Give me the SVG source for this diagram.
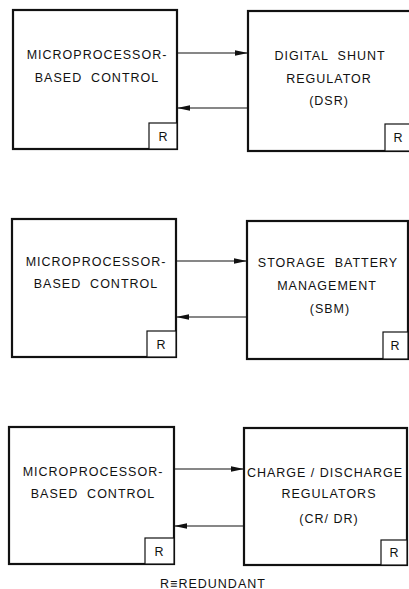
<svg xmlns="http://www.w3.org/2000/svg" width="409" height="589" viewBox="0 0 409 589">
<defs>
<style>
.box{fill:#fff;stroke:#111;stroke-width:2.2}
.rbox{fill:#fff;stroke:#111;stroke-width:1.2}
.t{font-family:"Liberation Sans",Arial,sans-serif;font-size:12.5px;fill:#111;text-anchor:middle;letter-spacing:1px;white-space:pre}
.c{stroke:#111;stroke-width:1.1;fill:none;marker-end:url(#ah)}
</style>
<marker id="ah" markerUnits="userSpaceOnUse" markerWidth="14" markerHeight="8" refX="13" refY="4" orient="auto">
<path d="M0,1.3 L13,4 L0,6.7 Z" fill="#111"/>
</marker>
</defs>
<rect width="409" height="589" fill="#fff"/>

<g id="mpc1">
<rect class="box" x="13" y="10" width="164" height="139"/>
<rect class="rbox" x="149" y="123" width="28" height="26"/>
<text class="t" x="97" y="58.5">MICROPROCESSOR-</text>
<text class="t" x="97" y="81.5" xml:space="preserve">BASED  CONTROL</text>
<text class="t" x="163.5" y="140.5">R</text>
</g>
<g id="dsr">
<rect class="box" x="248" y="11" width="165" height="140"/>
<rect class="rbox" x="385" y="124" width="28" height="27"/>
<text class="t" x="330" y="59.5" xml:space="preserve">DIGITAL  SHUNT</text>
<text class="t" x="329" y="82.5">REGULATOR</text>
<text class="t" x="329" y="104.5">(DSR)</text>
<text class="t" x="398.5" y="142">R</text>
</g>

<g id="mpc2">
<rect class="box" x="12" y="219" width="164" height="138"/>
<rect class="rbox" x="147" y="331" width="29" height="26"/>
<text class="t" x="96" y="265.5">MICROPROCESSOR-</text>
<text class="t" x="96" y="288" xml:space="preserve">BASED  CONTROL</text>
<text class="t" x="161.5" y="348.5">R</text>
</g>
<g id="sbm">
<rect class="box" x="247" y="221" width="161" height="138"/>
<rect class="rbox" x="383" y="332" width="25" height="27"/>
<text class="t" x="328" y="266.5" xml:space="preserve">STORAGE  BATTERY</text>
<text class="t" x="327" y="289.5">MANAGEMENT</text>
<text class="t" x="330" y="312.5">(SBM)</text>
<text class="t" x="395.5" y="350">R</text>
</g>

<g id="mpc3">
<rect class="box" x="9" y="427" width="165" height="137"/>
<rect class="rbox" x="145" y="538" width="29" height="26"/>
<text class="t" x="93" y="475.5">MICROPROCESSOR-</text>
<text class="t" x="93" y="497.5" xml:space="preserve">BASED  CONTROL</text>
<text class="t" x="159.5" y="555.5">R</text>
</g>
<g id="crdr">
<rect class="box" x="244" y="428" width="163" height="137"/>
<rect class="rbox" x="381" y="540" width="26" height="25"/>
<text class="t" x="325" y="476.5">CHARGE / DISCHARGE</text>
<text class="t" x="329" y="498">REGULATORS</text>
<text class="t" x="329" y="522.5">(CR/ DR)</text>
<text class="t" x="394.5" y="557">R</text>
</g>

<g id="connectors">
<line class="c" x1="177" y1="53" x2="248" y2="53"/>
<line class="c" x1="248" y1="108" x2="177" y2="108"/>
<line class="c" x1="176" y1="261" x2="247" y2="261"/>
<line class="c" x1="247" y1="317" x2="176" y2="317"/>
<line class="c" x1="174" y1="469" x2="244" y2="469"/>
<line class="c" x1="244" y1="526" x2="174" y2="526"/>
</g>

<text class="t" x="213" y="587.5">R≡REDUNDANT</text>
</svg>
